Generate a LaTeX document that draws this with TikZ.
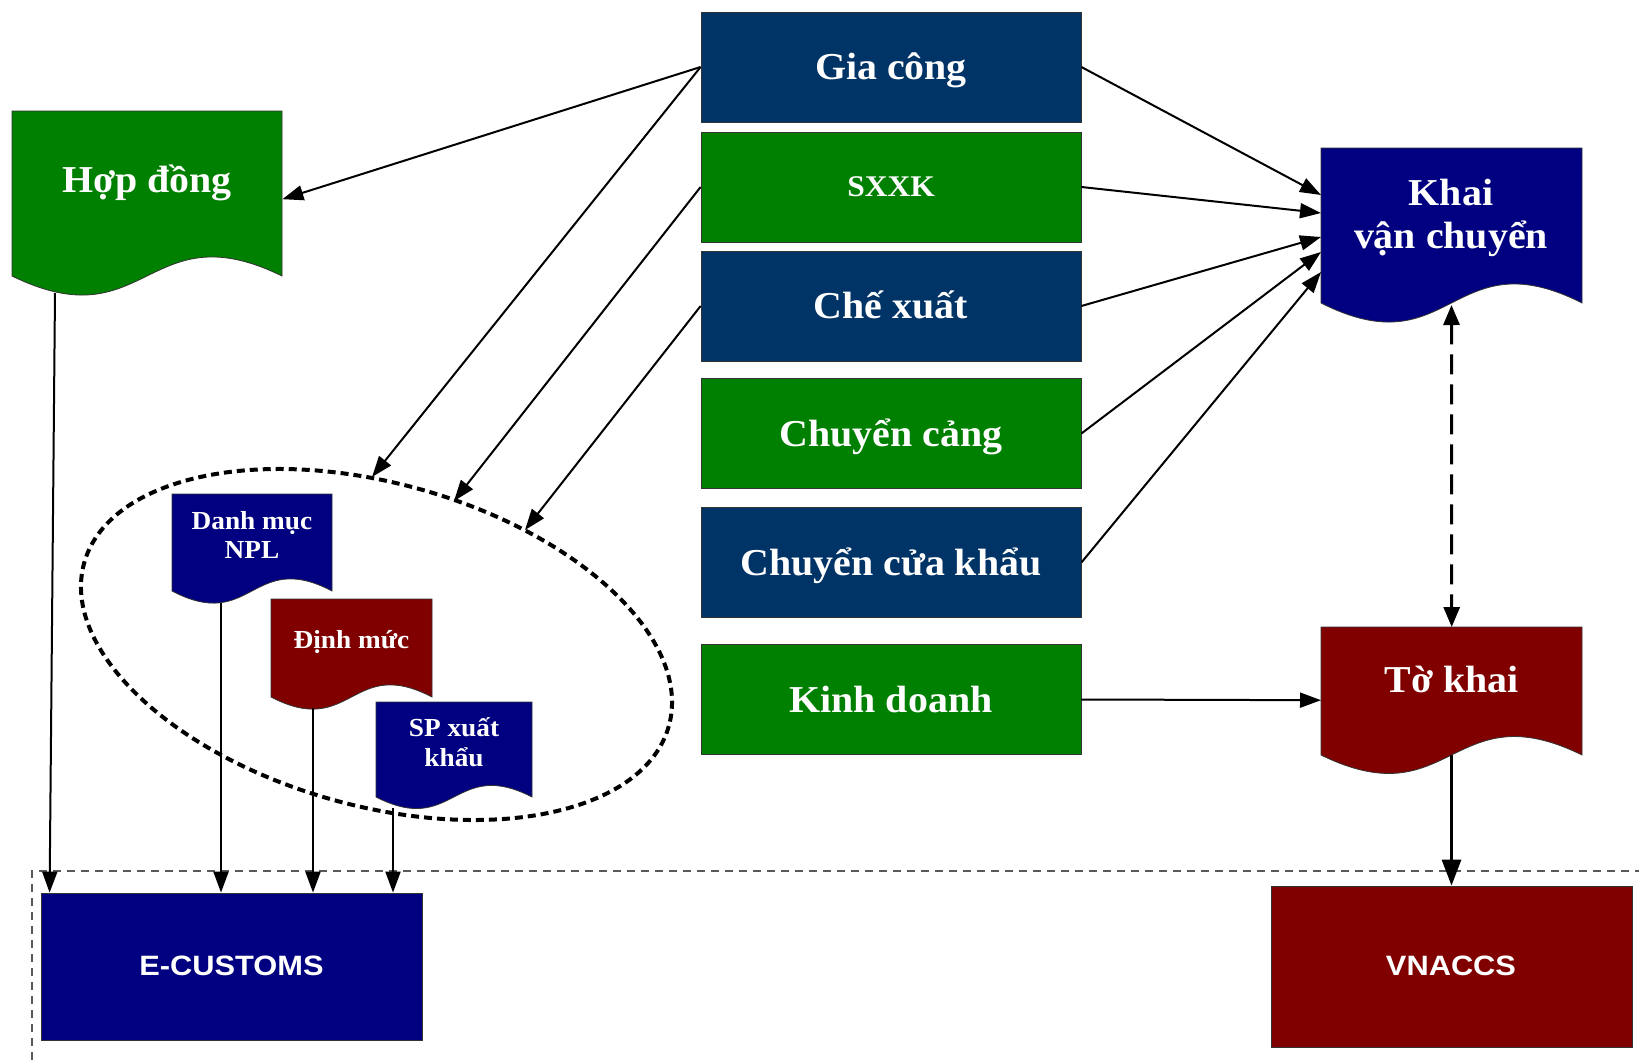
\documentclass[tikz,border=0pt]{standalone}
\usepackage{fontspec}
\setmainfont{Liberation Serif}[FakeStretch=1.05]
\newfontfamily\arialfont{Liberation Sans}[FakeStretch=1.1]
\usetikzlibrary{arrows.meta}
\definecolor{cnavy}{RGB}{0,51,102}
\definecolor{cblue}{RGB}{0,0,128}
\definecolor{cgreen}{RGB}{0,128,0}
\definecolor{cred}{RGB}{128,0,0}
\newcommand\mydoc[6]{%
  \pgfmathsetmacro\xm{(#1+#3)/2}%
  \filldraw[fill=#6, draw=black!80, line width=0.8pt] (#1,#2) -- (#3,#2) -- (#3,#4)
    .. controls (\xm,#4-#5) and (\xm,#4+#5) .. (#1,#4) -- cycle;}
\tikzset{
  box/.style={draw=black!80, line width=0.8pt, minimum width=380pt, minimum height=110pt,
    inner sep=0pt, text=white, font=\bfseries\fontsize{38}{44}\selectfont,
    text height=25pt, text depth=0pt},
  sysbox/.style={draw=black!80, line width=0.8pt, inner sep=0pt, text=white},
  systxt/.style={text=white, inner sep=0pt, anchor=base, font=\arialfont\bfseries\fontsize{28}{32}\selectfont},
  area/.style={inner sep=0pt, minimum width=#1, anchor=north west},
  bigtxt/.style={text=white, inner sep=0pt, anchor=base, font=\bfseries\fontsize{38}{44}\selectfont},
  smalltxt/.style={text=white, inner sep=0pt, anchor=base, font=\bfseries\fontsize{26}{30}\selectfont},
  conn/.style={line width=2pt, -{Triangle[length=21pt,width=15pt]}},
  thickconn/.style={line width=3pt, -{Triangle[length=26pt,width=19pt]}},
  dconn/.style={line width=3pt, dash pattern=on 20pt off 10pt,
    {Triangle[length=20pt,width=16pt]}-{Triangle[length=20pt,width=16pt]}},
  ell/.style={line width=4pt, dash pattern=on 8pt off 5pt},
  frame/.style={draw=black!65, line width=1.3pt, dash pattern=on 8pt off 6pt}
}
\begin{document}
\begin{tikzpicture}[x=1pt,y=-1pt]
\useasboundingbox (0,0) rectangle (1639,1060);
\fill[white] (0,0) rectangle (1639,1060);

% dashed frame
\coordinate (fb) at (32,1060);
\coordinate (ft) at (32,871);
\coordinate (fr) at (1639,871);
\draw[frame] (fb) -- (ft) -- (fr);

% process boxes
\node[box, fill=cnavy]  (gc) at (891,67)    {Gia công};
\node[box, fill=cgreen, font=\bfseries\fontsize{30}{34}\selectfont, text height=19pt] (sx) at (891,187) {SXXK};
\node[box, fill=cnavy]  (cx) at (891,306)   {Chế xuất};
\node[box, fill=cgreen] (cc) at (891,433.5) {Chuyển cảng};
\node[box, fill=cnavy]  (ck) at (891,562.5) {Chuyển cửa khẩu};
\node[box, fill=cgreen] (kd) at (891,699.5) {Kinh doanh};

% systems
\node[sysbox, fill=cblue, minimum width=381pt, minimum height=147pt] (ec) at (231.5,966.5) {};
\node[systxt] (ect) at (231.5,975) {E-CUSTOMS};
\node[sysbox, fill=cred, minimum width=361pt, minimum height=161pt] (vn) at (1451.5,966.5) {};
\node[systxt] (vnt) at (1451,975) {VNACCS};

% ellipse group
\draw[ell, rotate around={-15.6:(376.5,644.5)}] (376.5,644.5) ellipse (303.5 and 161.3);
\coordinate (e1) at (372,477);
\coordinate (e2) at (454,501);
\coordinate (e3) at (525,530);

% documents
\mydoc{12}{111}{282}{276}{66}{cgreen}
\node[area=270pt, minimum height=176pt] (hd) at (12,111) {};
\node[bigtxt] (hdt) at (147,192) {Hợp đồng};
\coordinate (hdb) at (55,293);

\mydoc{1321}{148}{1582}{303}{66}{cblue}
\node[area=261pt, minimum height=162pt] (kv) at (1321,148) {};
\node[bigtxt] (kvt1) at (1451,205) {Khai};
\node[bigtxt] (kvt2) at (1451,248) {vận chuyển};
\coordinate (kvb) at (1451.5,305);

\mydoc{1321}{627}{1582}{755}{64}{cred}
\node[area=261pt, minimum height=146pt] (tk) at (1321,627) {};
\node[bigtxt] (tkt) at (1451.5,692) {Tờ khai};
\coordinate (tkb) at (1451.5,755);

\mydoc{172}{494}{332}{591}{42}{cblue}
\node[area=160pt, minimum height=110pt] (dm) at (172,494) {};
\node[smalltxt] (dmt1) at (252,529) {Danh mục};
\node[smalltxt] (dmt2) at (252,558) {NPL};
\coordinate (dmb) at (221,603);

\mydoc{271}{599}{432}{697}{42}{cred}
\node[area=161pt, minimum height=110pt] (dn) at (271,599) {};
\node[smalltxt] (dnt) at (351.5,648) {Định mức};
\coordinate (dnb) at (313,708);

\mydoc{376}{702}{532}{797}{40}{cblue}
\node[area=156pt, minimum height=106pt] (sp) at (376,702) {};
\node[smalltxt] (spt1) at (454,736) {SP xuất};
\node[smalltxt] (spt2) at (454,766) {khẩu};
\coordinate (spb) at (393,808);

% connectors
\draw[conn] (gc.west) -- (hd.east);
\draw[conn] (gc.west) -- (e1);
\draw[conn] (sx.west) -- (e2);
\draw[conn] (cx.west) -- (e3);

\coordinate (k1) at (1321,195);
\coordinate (k2) at (1321,213);
\coordinate (k3) at (1321,237);
\coordinate (k4) at (1321,252);
\coordinate (k5) at (1321,272);
\draw[conn] (gc.east) -- (k1);
\draw[conn] (sx.east) -- (k2);
\draw[conn] (cx.east) -- (k3);
\draw[conn] (cc.east) -- (k4);
\draw[conn] (ck.east) -- (k5);
\draw[conn] (kd.east) -- (tk.west);

\draw[dconn] (kvb) -- (tk.north);
\draw[thickconn] (tkb) -- (tkb |- vn.north);

\draw[conn] (hdb) -- ([xshift=9pt]ec.north west);
\draw[conn] (dmb) -- (dmb |- ec.north);
\draw[conn] (dnb) -- (dnb |- ec.north);
\draw[conn] (spb) -- (spb |- ec.north);
\end{tikzpicture}
\end{document}
